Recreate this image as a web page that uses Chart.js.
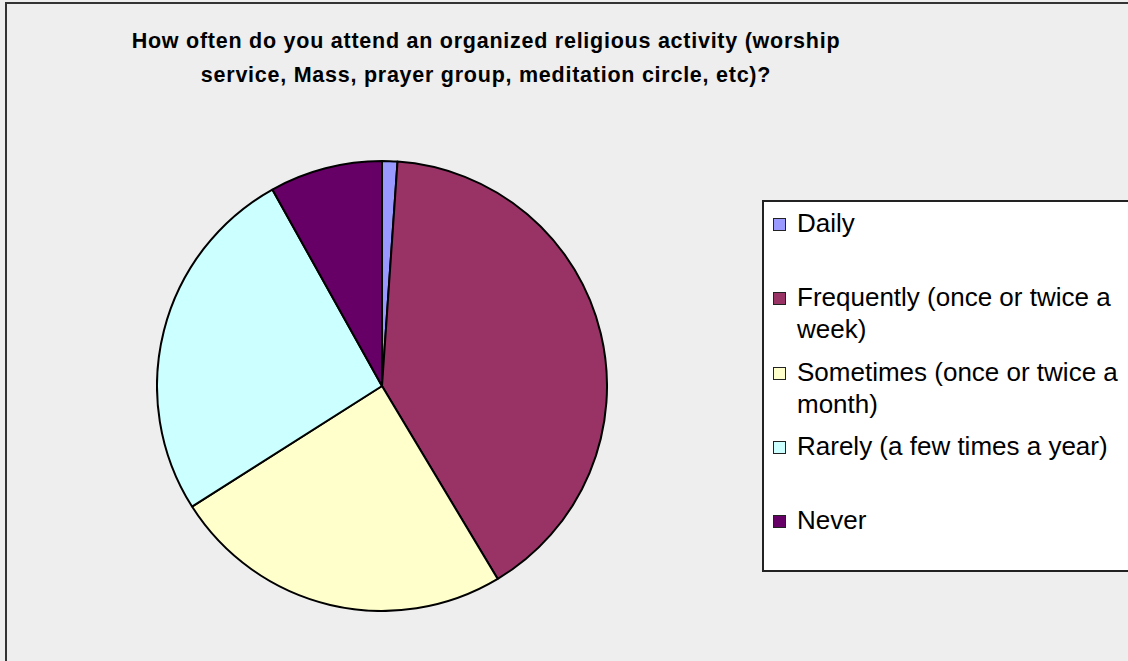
<!DOCTYPE html>
<html>
<head>
<meta charset="utf-8">
<script src="https://cdn.jsdelivr.net/npm/chart.js@4"></script>
<style>
    html, body {
        margin: 0;
        width: 1128px;
        height: 661px;
        overflow: hidden;
        background: #eeeeee;
        font-family: "Liberation Sans", Arial, sans-serif;
    }
    #frame {
        position: absolute;
        left: 5px;
        top: 2px;
        width: 1123px;
        height: 659px;
        border-left: 2px solid #333;
        border-top: 2px solid #333;
        box-sizing: border-box;
        background: #eeeeee;
    }
    #title {
        position: absolute;
        left: 0;
        top: 24px;
        width: 972px;
        text-align: center;
        font-weight: bold;
        font-size: 21.5px;
        line-height: 34px;
        letter-spacing: 0.75px;
        color: #000;
    }
    #pieBox {
        position: absolute;
        left: 156px;
        top: 160px;
        width: 452px;
        height: 452px;
    }
    #legend {
        position: absolute;
        left: 762px;
        top: 200px;
        width: 366px;
        height: 372px;
        border: 2px solid #222;
        border-right: none;
        background: #fff;
        padding-top: 5px;
        box-sizing: border-box;
    }
    .item {
        position: relative;
        height: 74.3px;
    }
    .swatch {
        position: absolute;
        left: 9px;
        top: 11px;
        width: 11px;
        height: 11px;
        border: 1.5px solid #222;
    }
    .text {
        position: absolute;
        left: 33px;
        top: 0;
        width: 332px;
        font-size: 26px;
        line-height: 32px;
        color: #000;
    }
</style>
</head>
<body>
<div id="frame"></div>
<div id="title">How often do you attend an organized religious activity (worship<br>service, Mass, prayer group, meditation circle, etc)?</div>
<div id="pieBox"><canvas id="attendance"></canvas></div>
<div id="legend"></div>

<script>
const labels = ['Daily', 'Frequently (once or twice a week)', 'Sometimes (once or twice a month)', 'Rarely (a few times a year)', 'Never'];
const shares = [1.1, 40.3, 24.6, 25.9, 8.1];
const colors = ['#9999ff', '#993366', '#ffffcc', '#ccffff', '#660066'];

const ctx = document.getElementById('attendance');

new Chart(ctx, {
    type: 'pie',
    data: {
        labels: labels,
        datasets: [
            {
                data: shares,
                backgroundColor: colors,
                borderColor: '#000',
                borderWidth: 2,
                borderAlign: 'center',
            },
        ],
    },
    options: {
        responsive: true,
        maintainAspectRatio: false,
        animation: false,
        layout: { padding: 0 },
        plugins: {
            legend: { display: false },
            title: { display: false },
            tooltip: { enabled: false },
        },
    },
});

// legend on the right, one fixed-height row per slice
const legendBox = document.getElementById('legend');
labels.forEach((label, i) => {
    const row = document.createElement('div');
    row.className = 'item';
    const swatch = document.createElement('div');
    swatch.className = 'swatch';
    swatch.style.background = colors[i];
    const text = document.createElement('div');
    text.className = 'text';
    text.textContent = label;
    row.appendChild(swatch);
    row.appendChild(text);
    legendBox.appendChild(row);
});
</script>
</body>
</html>
